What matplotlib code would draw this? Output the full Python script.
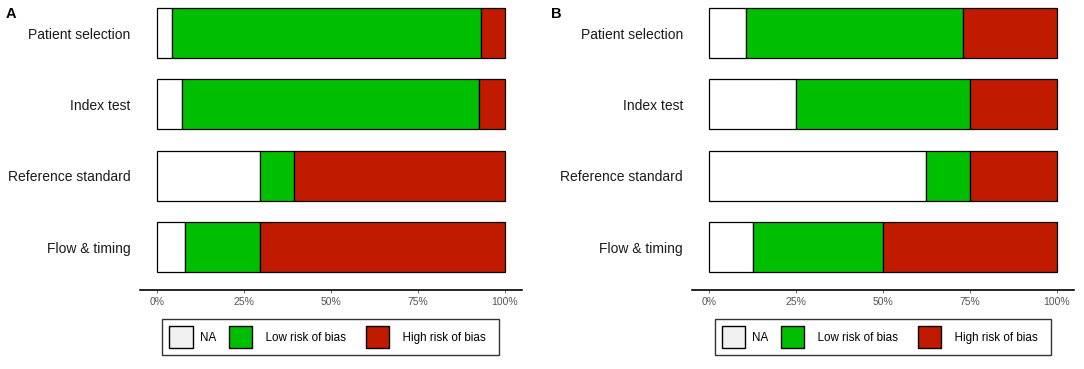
import numpy as np
import matplotlib.pyplot as plt
from matplotlib.patches import Patch

plt.rcParams['font.family'] = ['Liberation Sans', 'DejaVu Sans']

domains = ['Patient selection', 'Index test', 'Reference standard', 'Flow & timing']
categories = ['NA', 'Low risk of bias', 'High risk of bias']

# percentages per domain (NA, low, high)
panel_a_na = [4.4, 7.1, 29.6, 8.0]
panel_a_low = [88.7, 85.6, 9.7, 21.6]
panel_a_high = [6.9, 7.3, 60.7, 70.4]

panel_b_na = [10.5, 25.0, 62.5, 12.5]
panel_b_low = [62.5, 50.0, 12.5, 37.5]
panel_b_high = [27.0, 25.0, 25.0, 50.0]

bar_colors = ['#FFFFFF', '#00BF00', '#C01A00']
key_colors = ['#F0F0F0', '#00BF00', '#C01A00']

W, H = 1084, 369
fig = plt.figure(figsize=(W / 100, H / 100), dpi=100)


def draw_panel(rect, na, low, high, letter, letter_x):
    ax = fig.add_axes(rect)
    y = np.arange(len(domains))[::-1] + 1
    left = np.zeros(len(domains))
    for vals, col in zip([na, low, high], bar_colors):
        v = np.array(vals) / 100.0
        ax.barh(y, v, left=left, height=0.7, color=col,
                edgecolor='black', linewidth=0.9)
        left = left + v
    ax.set_xlim(-0.05, 1.05)
    ax.set_ylim(0.4, 4.6)
    ax.set_yticks(y)
    ax.set_yticklabels(domains, fontsize=10, color='#1a1a1a')
    ax.tick_params(axis='y', length=0, pad=6.5)
    ax.set_xticks([0, 0.25, 0.5, 0.75, 1.0])
    ax.set_xticklabels(['0%', '25%', '50%', '75%', '100%'],
                       fontsize=7.5, color='#555555')
    ax.tick_params(axis='x', length=2.5, width=0.6, color='#555555', pad=2.5)
    for s in ['top', 'right', 'left']:
        ax.spines[s].set_visible(False)
    ax.spines['bottom'].set_linewidth(1.2)

    handles = [Patch(facecolor=c, edgecolor='black', linewidth=1.0)
               for c in key_colors]
    labels = ['NA', '  Low risk of bias  ', '  High risk of bias  ']
    # legend centred ~47 px below the axis line
    ax_h = rect[3] * H
    leg = ax.legend(handles, labels, ncol=3, loc='center',
                    bbox_to_anchor=(0.5, -47 / ax_h), fontsize=8.4,
                    handlelength=2.0, handleheight=2.6, handletextpad=0.6,
                    columnspacing=1.1, borderpad=0.6, fancybox=False,
                    frameon=True, edgecolor='black')
    leg.get_frame().set_linewidth(1.0)
    fig.text(letter_x / W, 1 - 14 / H, letter, fontsize=10.5, fontweight='bold',
             va='center', ha='left')
    return ax


ax_bottom = 1 - 290 / H
ax_top = 1 + 9.8 / H
draw_panel([139.6 / W, ax_bottom, (522 - 139.6) / W, ax_top - ax_bottom],
           panel_a_na, panel_a_low, panel_a_high, 'A', 5.5)
draw_panel([692 / W, ax_bottom, (1074 - 692) / W, ax_top - ax_bottom],
           panel_b_na, panel_b_low, panel_b_high, 'B', 550.5)

fig.savefig('out.png', dpi=100)
